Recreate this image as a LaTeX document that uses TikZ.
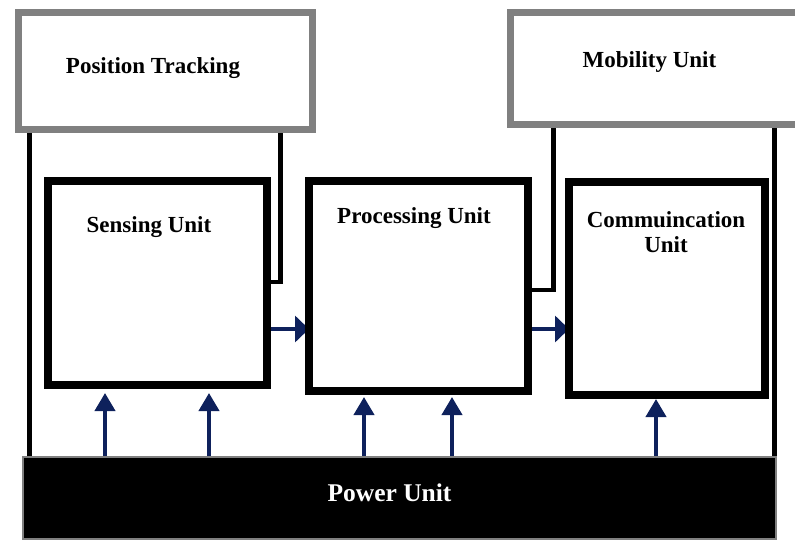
\documentclass[tikz,border=0pt]{standalone}
\usepackage{fontspec}
\setmainfont{Liberation Serif}
\usetikzlibrary{arrows.meta,backgrounds}
\definecolor{framegray}{RGB}{128,128,128}
\definecolor{navyflow}{RGB}{14,33,92}
\tikzset{
  topbox/.style={draw=framegray, line width=7pt, rectangle, inner sep=0pt},
  unitbox/.style={draw=black, line width=8pt, rectangle, inner sep=0pt},
  powerbox/.style={draw=framegray, line width=1.5pt, fill=black, rectangle, inner sep=0pt},
  label/.style={anchor=base, inner sep=0pt, font=\fontsize{23}{25}\selectfont\bfseries},
  wire/.style={draw=black, line width=5pt},
  joinwire/.style={draw=black, line width=3.5pt},
  flow/.style={draw=navyflow, line width=4pt, -{Triangle[length=14pt,width=26pt]}},
  lift/.style={draw=navyflow, line width=4pt, -{Triangle[length=18pt,width=20pt]}},
}
\begin{document}
\begin{tikzpicture}[x=1pt,y=-1pt]
\useasboundingbox (0,0) rectangle (795,540);
\clip (0,0) rectangle (795,540);

% upper modules
\node[topbox, minimum width=294pt, minimum height=117pt] (pt) at (165,71.5) {};
\node[topbox, minimum width=320pt, minimum height=112pt] (mob) at (670,69) {};

% main units
\node[unitbox, minimum width=219pt, minimum height=203.5pt] (sense) at (157,283.25) {};
\node[unitbox, minimum width=219pt, minimum height=210pt] (proc) at (418.5,286) {};
\node[unitbox, minimum width=195.5pt, minimum height=213pt] (comm) at (666.75,288.5) {};

% power supply
\node[powerbox, minimum width=753pt, minimum height=82pt] (power) at (399.5,498) {};

% labels
\node[label] (ptlabel) at (153,74) {Position Tracking};
\node[label] (moblabel) at (649.5,68) {Mobility Unit};
\node[label] (senselabel) at (149,233) {Sensing Unit};
\node[label] (proclabel) at (414,224) {Processing Unit};
\node[label, align=center] (commlabel) at (666,252) {Commuincation\\Unit};
\node[label, text=white, font=\fontsize{25.5}{28}\selectfont\bfseries] (powerlabel) at (389.5,501) {Power Unit};

% bend points of the module links
\coordinate (ptdrop) at (29.5,0);
\coordinate (ptjoin) at (280.5,282);
\coordinate (mobjoin) at (553,290);
\coordinate (mobdrop) at (774.5,0);
\coordinate (flowrow) at (0,329);

\begin{scope}[on background layer]
  % links from the upper modules
  \draw[wire] (pt.south -| ptdrop) -- (power.north -| ptdrop);
  \draw[wire] (pt.south -| ptjoin) -- ([yshift=1.75pt]ptjoin);
  \draw[joinwire] ([xshift=2.5pt]ptjoin) -- (ptjoin -| sense.east);
  \draw[wire] (mob.south -| mobjoin) -- ([yshift=1.75pt]mobjoin);
  \draw[joinwire] ([xshift=2.5pt]mobjoin) -- (mobjoin -| proc.east);
  \draw[wire] (mob.south -| mobdrop) -- (power.north -| mobdrop);

  % data flow between units
  \draw[flow] (sense.east |- flowrow) -- ([xshift=4pt]proc.west |- flowrow);
  \draw[flow] (proc.east |- flowrow) -- ([xshift=4pt]comm.west |- flowrow);

  % power feeds
  \draw[lift] (power.north -| 105,0) -- ([yshift=-4pt]sense.south -| 105,0);
  \draw[lift] (power.north -| 209,0) -- ([yshift=-4pt]sense.south -| 209,0);
  \draw[lift] (power.north -| 364,0) -- ([yshift=-2pt]proc.south -| 364,0);
  \draw[lift] (power.north -| 452,0) -- ([yshift=-2pt]proc.south -| 452,0);
  \draw[lift] (power.north -| 656,0) -- ([yshift=0pt]comm.south -| 656,0);
\end{scope}
\end{tikzpicture}
\end{document}
